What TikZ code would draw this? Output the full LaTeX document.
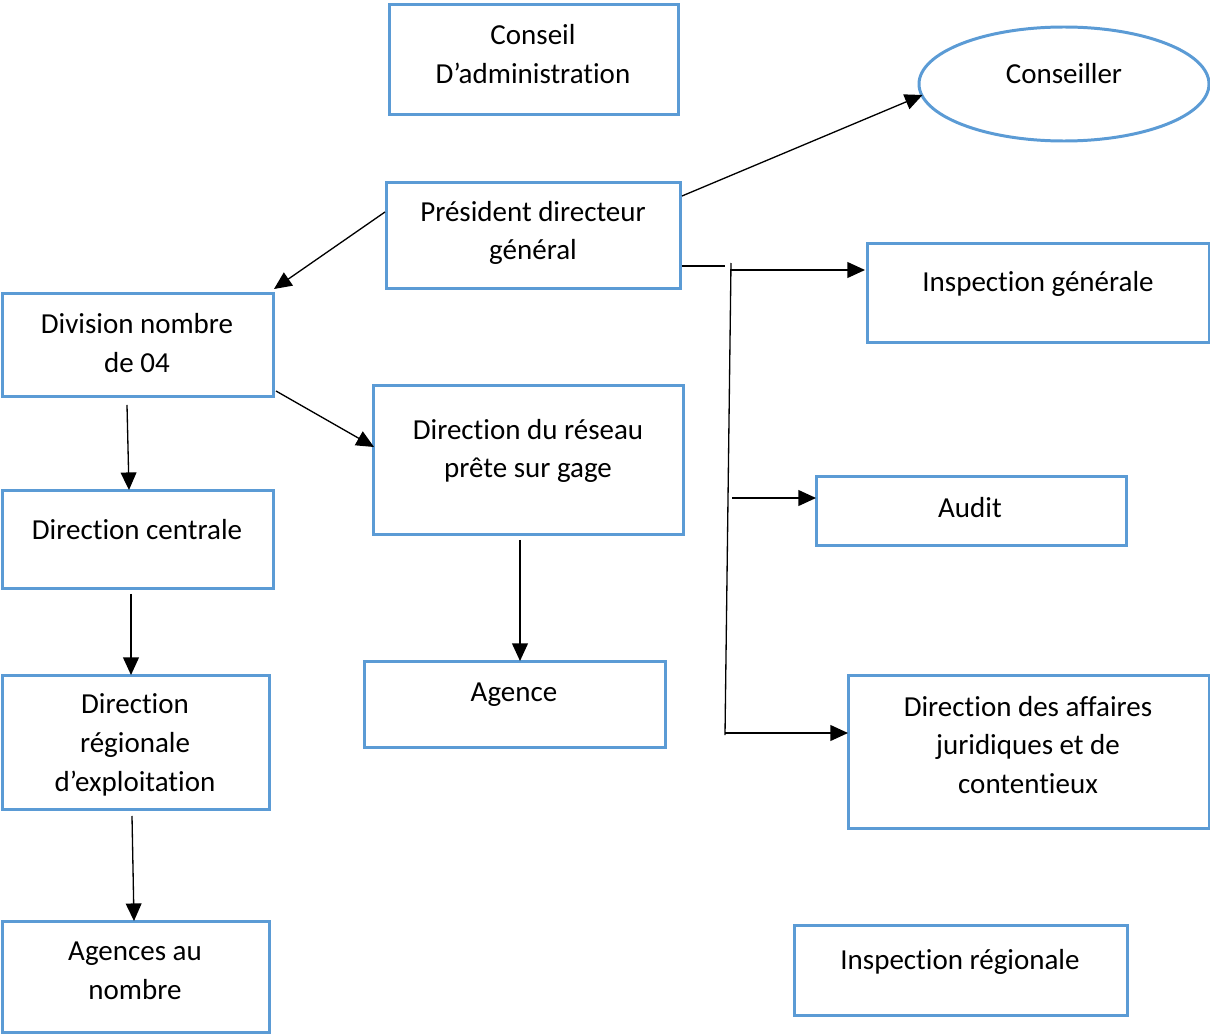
\documentclass[tikz,border=0pt]{standalone}
\usepackage{fontspec}
\setmainfont{Carlito}[Ligatures=NoCommon]
\usetikzlibrary{shapes.geometric,arrows.meta,calc}
\definecolor{boxblue}{HTML}{5B9BD5}
\begin{document}
\begin{tikzpicture}[x=0.02cm,y=-0.02cm,
  box/.style n args={2}{draw=boxblue, line width=1.7pt, minimum width=#1*0.02cm,
    minimum height=#2*0.02cm, anchor=north west, inner sep=0pt},
  txt/.style={align=center, inner sep=0pt, font=\fontsize{16.5}{22}\selectfont},
  conn/.style={draw=black, line width=0.75pt},
  arr/.style={conn, -{Triangle[length=10pt,width=9pt]}}]
\useasboundingbox (0,0) rectangle (1210,1034);

% boxes
\node[box={289}{110}] (ca) at (388,3) {};
\node[draw=boxblue, line width=1.7pt, ellipse, minimum width=290*0.02cm,
      minimum height=114*0.02cm, inner sep=0pt] (cons) at (1064,84) {};
\node[box={294}{106}] (pdg) at (385,181) {};
\node[box={342}{99}] (ig) at (866,242) {};
\node[box={271}{103}] (div) at (1,292) {};
\node[box={310}{149}] (dr) at (372,384) {};
\node[box={271}{98}] (dc) at (1,489) {};
\node[box={310}{69}] (audit) at (815,475) {};
\node[box={267}{134}] (drx) at (1,674) {};
\node[box={301}{86}] (agence) at (363,660) {};
\node[box={361}{153}] (daj) at (847,674) {};
\node[box={267}{111}] (ag) at (1,920) {};
\node[box={333}{90}] (ir) at (793,924) {};

% labels
\node[txt] (cat) at (533,54) {Conseil\\D’administration};
\node[txt] (const) at (1064,74) {Conseiller};
\node[txt] (pdgt) at (533,233) {Président directeur\\général};
\node[txt] (igt) at (1038,284) {Inspection générale};
\node[txt] (divt) at (137,343) {Division nombre\\de 04};
\node[txt] (drt) at (528,451) {Direction du réseau\\prête sur gage};
\node[txt] (dct) at (137,530) {Direction centrale};
\node[txt] (auditt) at (970,508) {Audit};
\node[txt] (drxt) at (135,745) {Direction\\régionale\\d’exploitation};
\node[txt] (agencet) at (514,695) {Agence};
\node[txt] (dajt) at (1028,745) {Direction des affaires\\juridiques et de\\contentieux};
\node[txt] (agt) at (135,971) {Agences au\\nombre};
\node[txt] (irt) at (960,962) {Inspection régionale};

% junction of the staff services
\coordinate (j1) at (725,266);
\coordinate (vt) at (731,263);
\coordinate (vb) at (725,735);
\coordinate (b1) at (730,270);
\coordinate (b2) at (732,498);
\coordinate (b3) at (725,733);

% connectors
\draw[arr] ($(pdg.north west)+(0,31)$) -- ($(div.north east)+(-1,-3)$);
\draw[arr] ($(pdg.north east)+(0,15)$) -- ($(cons.west)+(5,11)$);
\draw[conn] ($(pdg.north east)+(0,85)$) -- (j1);
\draw[conn] (vt) -- (vb);
\draw[arr] (b1) -- ($(ig.north west)+(-1,28)$);
\draw[arr] (b2) -- ($(audit.north west)+(1,23)$);
\draw[arr] (b3) -- ($(daj.north west)+(1,59)$);
\draw[arr] ($(div.south west)+(126,7)$) -- ($(dc.north west)+(128,1)$);
\draw[arr] ($(div.south east)+(1,-7)$) -- ($(dr.north west)+(2,63)$);
\draw[arr] ($(dc.south west)+(130,4)$) -- ($(drx.north west)+(130,1)$);
\draw[arr] ($(drx.south west)+(131,5)$) -- ($(ag.north west)+(133,1)$);
\draw[arr] ($(dr.south west)+(148,4)$) -- ($(agence.north west)+(157,1)$);
\end{tikzpicture}
\end{document}
